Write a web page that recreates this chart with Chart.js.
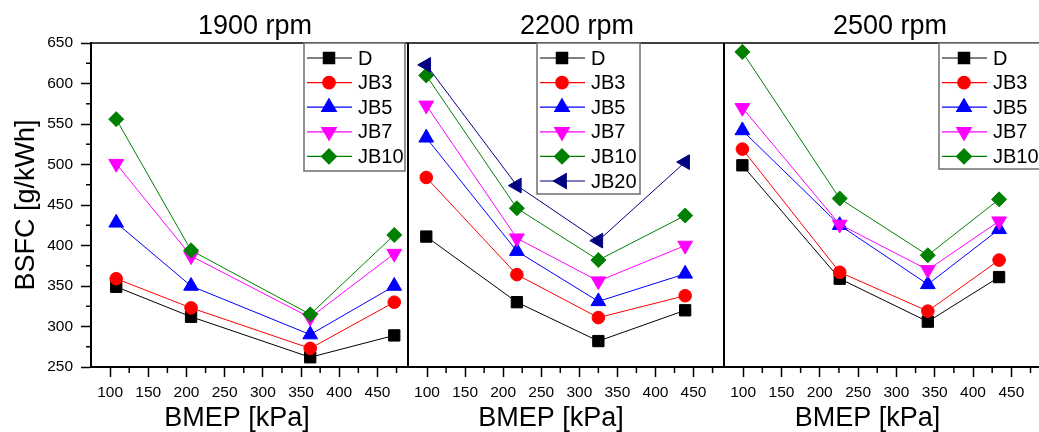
<!DOCTYPE html>
<html lang="en">
<head>
<meta charset="UTF-8">
<title>BSFC vs BMEP</title>
<style>
  body {
    margin: 0;
    background: #fff;
    overflow: hidden;
    width: 1039px;
    height: 432px;
    position: relative;
  }
  canvas { position: absolute; top: 0; }
  #c1900 { left: 0; }
  #c2200 { left: 406px; }
  #c2500 { left: 722px; }
</style>
<script src="https://cdn.jsdelivr.net/npm/chart.js"></script>
</head>
<body>
<canvas id="c1900" width="410" height="432"></canvas>
<canvas id="c2200" width="318" height="432"></canvas>
<canvas id="c2500" width="320" height="432"></canvas>
<script>
// series names and tick labels
const names = ['D', 'JB3', 'JB5', 'JB7', 'JB10', 'JB20'];
const xTicks = [100, 150, 200, 250, 300, 350, 400, 450];
const yTicks = [250, 300, 350, 400, 450, 500, 550, 600, 650];

// 1900 rpm
const bmep1900 = [108, 206, 362, 472];
const d1900 = [349, 312, 262, 289];
const jb3_1900 = [359, 323, 273, 330];
const jb5_1900 = [428, 350, 290, 350];
const jb7_1900 = [501, 387, 311, 390];
const jb10_1900 = [556, 394, 315, 413];

// 2200 rpm
const bmep2200 = [99, 218, 325, 439];
const d2200 = [411, 330, 282, 320];
const jb3_2200 = [484, 364, 311, 338];
const jb5_2200 = [533, 393, 331, 365];
const jb7_2200 = [573, 409, 356, 400];
const jb10_2200 = [610, 446, 382, 437];
const jb20_2200 = [623, 474, 406, 503];

// 2500 rpm
const bmep2500 = [99, 226, 341, 434];
const d2500 = [499, 359, 306, 361];
const jb3_2500 = [519, 367, 319, 382];
const jb5_2500 = [542, 425, 352, 420];
const jb7_2500 = [570, 426, 370, 430];
const jb10_2500 = [639, 458, 388, 457];

// marker styles per series
const colors = ['#000000', '#ff0000', '#0000ff', '#ff00ff', '#008000', '#000080'];
const markers = ['rect', 'circle', 'triangle', 'triangle', 'rectRot', 'triangle'];
const markerRot = [0, 0, 0, 180, 0, -90];
const markerSize = [8, 6.3, 8.5, 8.5, 7.5, 8.5];

const fontFamily = 'Arial, "Liberation Sans", sans-serif';
Chart.defaults.font.family = fontFamily;
Chart.defaults.color = '#000';

function makeSets(bmep, lists) {
    return lists.map((vals, i) => ({
        label: names[i],
        data: vals.map((v, j) => ({ x: bmep[j], y: v })),
        borderColor: colors[i],
        backgroundColor: colors[i],
        borderWidth: 1,
        pointStyle: markers[i],
        pointRotation: markerRot[i],
        pointRadius: markerSize[i],
        pointBorderWidth: 1,
        order: 10 - i
    }));
}

function line(ctx, x1, y1, x2, y2) {
    ctx.beginPath();
    ctx.moveTo(x1, y1);
    ctx.lineTo(x2, y2);
    ctx.stroke();
}

// frame, minor ticks, titles and legend box
const panelDeco = {
    id: 'panelDeco',
    afterDraw(chart) {
        const ctx = chart.ctx;
        const a = chart.chartArea;
        const o = chart.options.plugins.panelDeco;
        ctx.save();
        ctx.strokeStyle = '#000';
        ctx.lineWidth = 1.5;
        line(ctx, a.left, a.top, a.right, a.top);
        ctx.lineWidth = 2;
        line(ctx, a.left, a.top, a.left, a.bottom);
        line(ctx, a.right, a.top, a.right, a.bottom);

        // minor ticks
        ctx.lineWidth = 1.5;
        const xs = chart.scales.x;
        for (let v = 125; v < xs.max; v += 50) {
            const px = xs.getPixelForValue(v);
            line(ctx, px, a.bottom, px, a.bottom + 6);
        }
        if (o.yMinor) {
            const ys = chart.scales.y;
            for (let v = 275; v < ys.max; v += 50) {
                const py = ys.getPixelForValue(v);
                line(ctx, a.left, py, a.left - 5, py);
            }
        }

        // titles
        const cx = (a.left + a.right) / 2;
        ctx.fillStyle = '#000';
        ctx.font = '27px ' + fontFamily;
        ctx.textAlign = 'center';
        ctx.textBaseline = 'middle';
        ctx.fillText(o.title, cx + o.titleDx, 27);
        ctx.fillText('BMEP [kPa]', cx + o.xTitleDx, 419);

        // legend
        const b = o.legend;
        const n = chart.data.datasets.length;
        ctx.fillStyle = '#fff';
        ctx.fillRect(b.x, b.y, b.w, b.h);
        ctx.strokeStyle = '#6e6e6e';
        ctx.lineWidth = 1.5;
        ctx.strokeRect(b.x, b.y, b.w, b.h);
        ctx.font = '20px ' + fontFamily;
        ctx.textAlign = 'left';
        for (let i = 0; i < n; i++) {
            const ds = chart.data.datasets[i];
            const y = b.y + 15 + i * 24.6;
            ctx.strokeStyle = ds.borderColor;
            ctx.fillStyle = ds.backgroundColor;
            ctx.lineWidth = 1.2;
            line(ctx, b.x + 3, y, b.x + 48, y);
            Chart.helpers.drawPoint(ctx, {
                pointStyle: ds.pointStyle,
                radius: ds.pointRadius,
                rotation: ds.pointRotation,
                borderWidth: 1
            }, b.x + 25, y);
            ctx.fillStyle = '#000';
            ctx.fillText(ds.label, b.x + 54, y + 1);
        }
        ctx.restore();
    }
};

function xAxis() {
    return {
        type: 'linear',
        min: 75,
        max: 490,
        afterBuildTicks: s => { s.ticks = xTicks.map(v => ({ value: v })); },
        ticks: { font: { size: 15.5 }, padding: 6, color: '#000' },
        grid: { drawOnChartArea: false, tickLength: 10, tickWidth: 1.5, tickColor: '#000' },
        border: { color: '#000', width: 2 },
        afterFit: s => { s.height = 65; }
    };
}

function makeChart(id, sets, yShown, padding, deco) {
    const yAxis = yShown ? {
        min: 250,
        max: 650,
        afterBuildTicks: s => { s.ticks = yTicks.map(v => ({ value: v })); },
        ticks: { font: { size: 15.5 }, padding: 8, color: '#000' },
        grid: { drawOnChartArea: false, tickLength: 10, tickWidth: 1.5, tickColor: '#000' },
        border: { color: '#000', width: 2 },
        title: { display: true, text: 'BSFC [g/kWh]', font: { size: 27 }, padding: { top: 10, bottom: 0 }, color: '#000' },
        afterFit: s => { s.width = 91; }
    } : { display: false, min: 250, max: 650 };

    return new Chart(document.getElementById(id), {
        type: 'line',
        data: { datasets: sets },
        options: {
            responsive: false,
            animation: false,
            events: [],
            layout: { padding: padding, autoPadding: false },
            scales: { x: xAxis(), y: yAxis },
            plugins: {
                legend: { display: false },
                tooltip: { enabled: false },
                panelDeco: deco
            }
        },
        plugins: [panelDeco]
    });
}

makeChart('c1900',
    makeSets(bmep1900, [d1900, jb3_1900, jb5_1900, jb7_1900, jb10_1900]),
    true, { top: 43, left: 0, right: 2, bottom: 0 },
    { title: '1900 rpm', titleDx: 5.5, xTitleDx: -12.5, yMinor: true,
      legend: { x: 304, y: 43, w: 101, h: 128 } });

makeChart('c2200',
    makeSets(bmep2200, [d2200, jb3_2200, jb5_2200, jb7_2200, jb10_2200, jb20_2200]),
    false, { top: 43, left: 2, right: 0, bottom: 0 },
    { title: '2200 rpm', titleDx: 11, xTitleDx: -15, yMinor: false,
      legend: { x: 131, y: 43, w: 103, h: 151 } });

makeChart('c2500',
    makeSets(bmep2500, [d2500, jb3_2500, jb5_2500, jb7_2500, jb10_2500]),
    false, { top: 43, left: 2, right: 0, bottom: 0 },
    { title: '2500 rpm', titleDx: 7, xTitleDx: -15.5, yMinor: false,
      legend: { x: 217, y: 43, w: 110, h: 126 } });
</script>
</body>
</html>
